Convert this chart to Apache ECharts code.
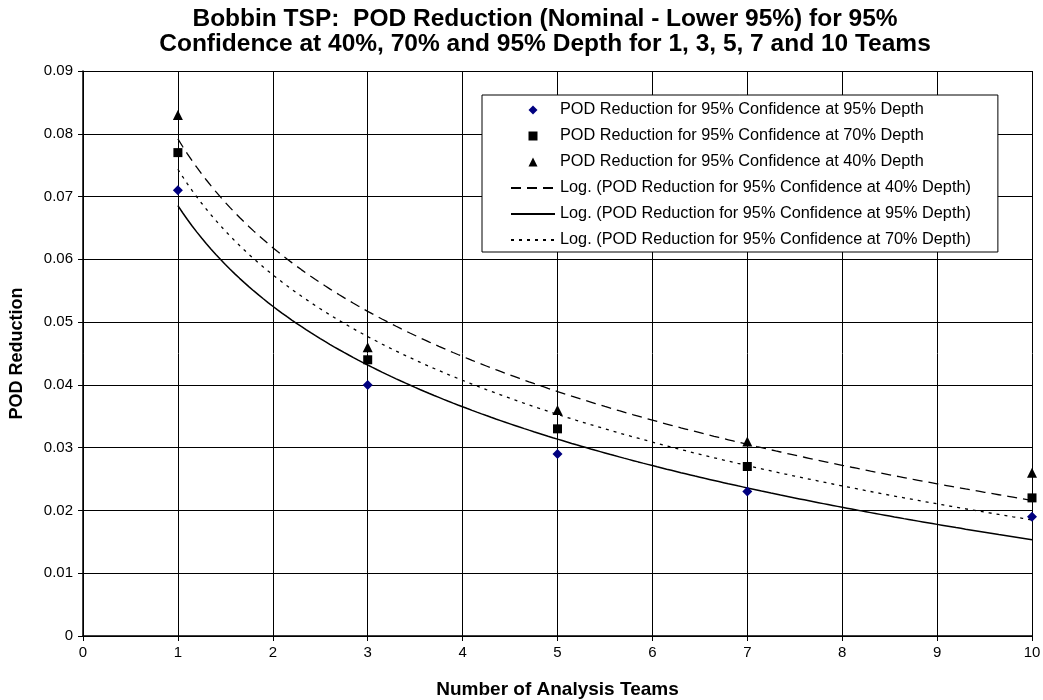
<!DOCTYPE html>
<html>
<head>
<meta charset="utf-8">
<title>Bobbin TSP: POD Reduction</title>
<script src="https://cdn.jsdelivr.net/npm/echarts@6/dist/echarts.min.js"></script>
<style>
  html, body { margin: 0; padding: 0; background: #fff; }
  #chart { width: 1043px; height: 700px; }
</style>
</head>
<body>
<div id="chart"></div>
<script>
// Number of analysis teams
const teams = [1, 3, 5, 7, 10];

// POD reduction (nominal - lower 95%) for 95% confidence at each depth
const depth95 = [0.071, 0.040, 0.029, 0.023, 0.019];
const depth70 = [0.077, 0.044, 0.033, 0.027, 0.022];
const depth40 = [0.083, 0.046, 0.036, 0.031, 0.026];

const xTicks = [0, 1, 2, 3, 4, 5, 6, 7, 8, 9, 10];
const yTicks = ['0', '0.01', '0.02', '0.03', '0.04', '0.05', '0.06', '0.07', '0.08', '0.09'];

const FONT = 'Arial, "Liberation Sans", Helvetica, sans-serif';

// Least-squares fit y = a + b*ln(x), the logarithmic trendline
function logFit(xs, ys) {
  const lx = xs.map(Math.log);
  const n = xs.length;
  const mx = lx.reduce((s, v) => s + v, 0) / n;
  const my = ys.reduce((s, v) => s + v, 0) / n;
  let sxy = 0, sxx = 0;
  for (let i = 0; i < n; i++) {
    sxy += (lx[i] - mx) * (ys[i] - my);
    sxx += (lx[i] - mx) * (lx[i] - mx);
  }
  const b = sxy / sxx;
  const a = my - b * mx;
  return { a, b };
}

// Trendline drawn across the span of the observed teams
function trendPoints(xs, ys) {
  const f = logFit(xs, ys);
  const lo = xs[0], hi = xs[xs.length - 1];
  const pts = [];
  const steps = 180;
  for (let i = 0; i <= steps; i++) {
    const x = lo + (hi - lo) * i / steps;
    pts.push([x, f.a + f.b * Math.log(x)]);
  }
  return pts;
}

const pair = (ys) => teams.map((t, i) => [t, ys[i]]);

const names = {
  s95: 'POD Reduction for 95% Confidence at 95% Depth',
  s70: 'POD Reduction for 95% Confidence at 70% Depth',
  s40: 'POD Reduction for 95% Confidence at 40% Depth',
  l40: 'Log. (POD Reduction for 95% Confidence at 40% Depth)',
  l95: 'Log. (POD Reduction for 95% Confidence at 95% Depth)',
  l70: 'Log. (POD Reduction for 95% Confidence at 70% Depth)'
};

// Trendline legend entries show only the stroke, no marker
const lineOnly = { color: 'rgba(0,0,0,0)', borderColor: 'rgba(0,0,0,0)', borderWidth: 0 };

const chart = echarts.init(document.getElementById('chart'), null, { renderer: 'canvas' });

chart.setOption({
  backgroundColor: '#ffffff',
  animation: false,
  textStyle: { fontFamily: FONT, color: '#000' },
  title: {
    text: 'Bobbin TSP:  POD Reduction (Nominal - Lower 95%) for 95%\nConfidence at 40%, 70% and 95% Depth for 1, 3, 5, 7 and 10 Teams',
    left: 540,
    textAlign: 'center',
    top: 2,
    textStyle: { fontFamily: FONT, fontSize: 24.5, fontWeight: 'bold', color: '#000', lineHeight: 25 }
  },
  grid: { left: 83, right: 11, top: 71, bottom: 64, containLabel: false, outerBoundsMode: 'none' },
  legend: {
    left: 482,
    top: 95,
    orient: 'vertical',
    selectedMode: false,
    backgroundColor: '#fff',
    borderColor: '#000',
    borderWidth: 1,
    padding: [6, 27, 3, 28],
    itemWidth: 44,
    itemHeight: 9,
    itemGap: 8,
    textStyle: { fontFamily: FONT, fontSize: 16.3, color: '#000', lineHeight: 18 },
    data: [
      { name: names.s95, icon: 'path://M0,-1 L1,0 L0,1 L-1,0 Z' },
      { name: names.s70, icon: 'path://M0,0 L1,0 L1,1 L0,1 Z' },
      { name: names.s40, icon: 'path://M0,-1 L1,1 L-1,1 Z' },
      { name: names.l40, itemStyle: lineOnly },
      { name: names.l95, itemStyle: lineOnly },
      { name: names.l70, itemStyle: lineOnly }
    ]
  },
  xAxis: {
    type: 'value',
    min: 0,
    max: 10,
    interval: 1,
    name: 'Number of Analysis Teams',
    nameLocation: 'middle',
    nameGap: 44,
    nameTextStyle: { fontFamily: FONT, fontSize: 19, fontWeight: 'bold', color: '#000' },
    axisLine: { show: true, onZero: false, lineStyle: { color: '#000', width: 1.5 } },
    axisTick: { show: true, inside: false, length: 5, lineStyle: { color: '#000' } },
    axisLabel: { margin: 9, fontFamily: FONT, fontSize: 15, color: '#000',
      formatter: (v) => String(xTicks[Math.round(v)]) },
    splitLine: { show: true, lineStyle: { color: '#000', width: 1 } }
  },
  yAxis: {
    type: 'value',
    min: 0,
    max: 0.09,
    interval: 0.01,
    name: 'POD Reduction',
    nameLocation: 'middle',
    nameGap: 57,
    nameTextStyle: { fontFamily: FONT, fontSize: 18, fontWeight: 'bold', color: '#000' },
    axisLine: { show: true, lineStyle: { color: '#000', width: 1.5 } },
    axisTick: { show: true, inside: false, length: 5, lineStyle: { color: '#000' } },
    axisLabel: { margin: 10, fontFamily: FONT, fontSize: 15, color: '#000',
      formatter: (v) => yTicks[Math.round(v * 100)] },
    splitLine: { show: true, lineStyle: { color: '#000', width: 1 } }
  },
  series: [
    {
      name: names.l40, type: 'line', data: trendPoints(teams, depth40),
      showSymbol: false, symbol: 'none', z: 3,
      lineStyle: { color: '#000', width: 1.3, type: [10, 6] },
      itemStyle: { color: '#000' }
    },
    {
      name: names.l95, type: 'line', data: trendPoints(teams, depth95),
      showSymbol: false, symbol: 'none', z: 3,
      lineStyle: { color: '#000', width: 1.5, type: 'solid' },
      itemStyle: { color: '#000' }
    },
    {
      name: names.l70, type: 'line', data: trendPoints(teams, depth70),
      showSymbol: false, symbol: 'none', z: 3,
      lineStyle: { color: '#000', width: 1.3, type: [3, 5] },
      itemStyle: { color: '#000' }
    },
    {
      name: names.s95, type: 'scatter', data: pair(depth95),
      symbol: 'diamond', symbolSize: 10, z: 5,
      itemStyle: { color: '#000080', opacity: 1 }
    },
    {
      name: names.s70, type: 'scatter', data: pair(depth70),
      symbol: 'rect', symbolSize: 9, z: 5,
      itemStyle: { color: '#000', opacity: 1 }
    },
    {
      name: names.s40, type: 'scatter', data: pair(depth40),
      symbol: 'triangle', symbolSize: 10, z: 5,
      itemStyle: { color: '#000', opacity: 1 }
    }
  ]
});
</script>
</body>
</html>
